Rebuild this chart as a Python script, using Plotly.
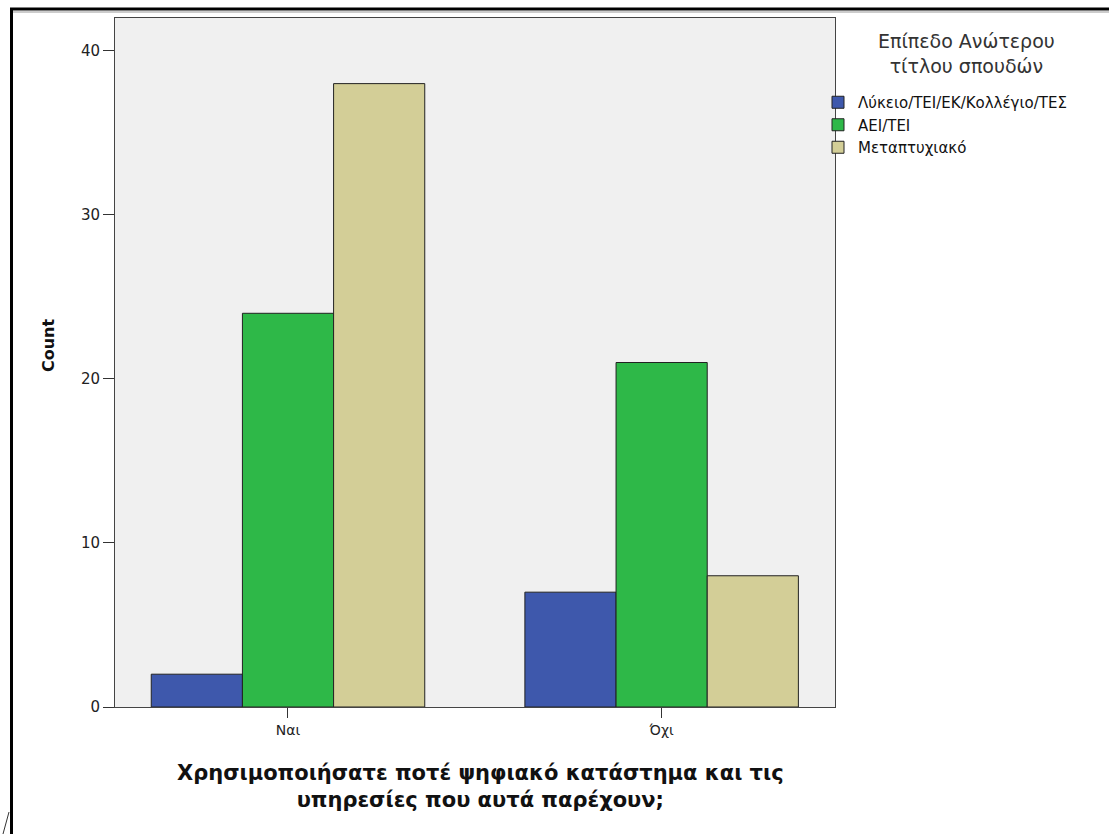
import plotly.graph_objects as go

# Survey answers on the x axis and education levels as bar series
categories = ["Ναι", "Όχι"]
series_names = ["Λύκειο/ΤΕΙ/ΕΚ/Κολλέγιο/ΤΕΣ", "ΑΕΙ/ΤΕΙ", "Μεταπτυχιακό"]
lyceum_counts = [2, 7]
university_counts = [24, 21]
postgrad_counts = [38, 8]
series_colors = ["#3e58ac", "#2eb848", "#d3ce97"]

y_ticks = [0, 10, 20, 30, 40]

W, H = 1109, 834
L, R, T, B = 115, 835, 18, 707  # plot area in pixels


def px_x(px):
    return (px - L) / (R - L)


def px_y(py):
    return (B - py) / (B - T)


fig = go.Figure()
for name, vals, col in zip(
    series_names, [lyceum_counts, university_counts, postgrad_counts], series_colors
):
    fig.add_trace(
        go.Bar(
            x=categories,
            y=vals,
            name=name,
            marker=dict(color=col, line=dict(color="#222222", width=1)),
        )
    )

font_main = "DejaVu Sans, Arial, sans-serif"

fig.update_layout(
    width=W,
    height=H,
    autosize=False,
    margin=dict(l=L, r=W - R, t=T, b=H - B),
    paper_bgcolor="white",
    plot_bgcolor="#f0f0f0",
    barmode="group",
    bargap=0.268,
    bargroupgap=0,
    showlegend=True,
    legend=dict(
        x=px_x(818),
        xanchor="left",
        y=px_y(86),
        yanchor="top",
        font=dict(family=font_main, size=15, color="#111111"),
        bgcolor="rgba(0,0,0,0)",
        borderwidth=0,
        itemclick=False,
    ),
    font=dict(family=font_main, color="#222222"),
    xaxis=dict(
        range=[-0.463, 1.464],
        showline=True,
        linecolor="#444444",
        linewidth=1,
        mirror=True,
        ticks="outside",
        ticklen=10,
        tickcolor="#333333",
        tickfont=dict(family=font_main, size=14, color="#222222"),
        showgrid=False,
        zeroline=False,
    ),
    yaxis=dict(
        range=[0, 42],
        tickvals=y_ticks,
        showline=True,
        linecolor="#444444",
        linewidth=1,
        mirror=True,
        ticks="outside",
        ticklen=11,
        tickcolor="#333333",
        tickfont=dict(family=font_main, size=15, color="#222222"),
        showgrid=False,
        zeroline=False,
    ),
)


def text_note(text, px, py, size, color, angle=0):
    return dict(
        text=text, x=px_x(px), y=px_y(py), xref="paper", yref="paper",
        xanchor="center", yanchor="middle", textangle=angle, showarrow=False,
        font=dict(family=font_main, size=size, color=color),
    )


annotations = [
    # legend heading
    text_note("Επίπεδο Ανώτερου<br>τίτλου σπουδών", 966, 53, 19, "#333333"),
    # y axis title
    text_note("<b>Count</b>", 48, 345, 16, "#111111", angle=-90),
    # x axis title
    text_note(
        "<b>Χρησιμοποιήσατε ποτέ ψηφιακό κατάστημα και τις<br>υπηρεσίες που αυτά παρέχουν;</b>",
        480, 786, 21, "#111111",
    ),
]
fig.update_layout(annotations=annotations)

# outer frame of the chart window
frame = [
    dict(type="line", x0=px_x(10), x1=px_x(1115), y0=px_y(9), y1=px_y(9),
         line=dict(color="#000000", width=3)),
    dict(type="line", x0=px_x(10), x1=px_x(1115), y0=px_y(12), y1=px_y(12),
         line=dict(color="#999999", width=1)),
    dict(type="line", x0=px_x(11.5), x1=px_x(11.5), y0=px_y(8), y1=px_y(840),
         line=dict(color="#000000", width=3)),
    dict(type="line", x0=px_x(3), x1=px_x(9), y0=px_y(834), y1=px_y(812),
         line=dict(color="#333333", width=1)),
]
for s in frame:
    s.update(xref="paper", yref="paper", layer="above")
fig.update_layout(shapes=frame)

fig.write_html("out.html")
